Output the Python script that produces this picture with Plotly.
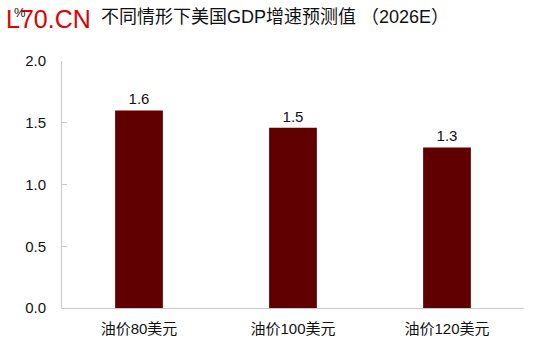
import plotly.graph_objects as go

categories = ["油价80美元", "油价100美元", "油价120美元"]
values = [1.6, 1.46, 1.3]
y_ticks = [0.0, 0.5, 1.0, 1.5, 2.0]
y_tick_labels = ["0.0", "0.5", "1.0", "1.5", "2.0"]
title_text = "不同情形下美国GDP增速预测值 （2026E）"
unit_text = "%"
watermark_text = "L70.CN"

font_family = "Liberation Sans, Arial, Noto Sans CJK SC, sans-serif"

fig = go.Figure(go.Bar(
    x=categories,
    y=values,
    marker=dict(color="#600000", line=dict(width=0)),
    width=0.31,
    texttemplate="%{y:.1f}",
    textposition="outside",
    textfont=dict(size=15, color="#111111", family=font_family),
    cliponaxis=False,
))

fig.update_layout(
    width=550, height=358,
    margin=dict(l=62, r=26, t=61, b=50),
    plot_bgcolor="white", paper_bgcolor="white",
    showlegend=False,
    font=dict(family=font_family, size=13, color="#111111"),
)
fig.update_yaxes(
    range=[0, 2], tickvals=y_ticks, ticktext=y_tick_labels,
    showgrid=False, zeroline=False, automargin=False,
    showline=True, linecolor="#c8c8c8", linewidth=1,
    ticks="inside", ticklen=5, tickcolor="#c8c8c8",
    ticklabelstandoff=12,
    tickfont=dict(size=15, color="#111111"),
)
fig.update_xaxes(
    showgrid=False, zeroline=False, automargin=False,
    showline=True, linecolor="#c8c8c8", linewidth=1,
    ticks="", ticklabelstandoff=7,
    tickfont=dict(size=15, color="#111111", family=font_family),
)

fig.add_annotation(
    text=watermark_text, xref="paper", yref="paper",
    x=-62/462, y=1 + (61 - 19) / 247, xanchor="left", yanchor="middle",
    xshift=4, showarrow=False,
    font=dict(size=25, color="#e00000", family="Liberation Sans, Arial, sans-serif"),
)
fig.add_annotation(
    text=unit_text, xref="paper", yref="paper",
    x=-62/462, y=1 + (61 - 13) / 247, xanchor="left", yanchor="middle",
    xshift=12, showarrow=False,
    font=dict(size=13, color="#111111", family="Liberation Sans, Arial, sans-serif"),
)
fig.add_annotation(
    text=title_text, xref="paper", yref="paper",
    x=-62/462, y=1 + (61 - 17) / 247, xanchor="left", yanchor="middle",
    xshift=99, showarrow=False,
    font=dict(size=18, color="#111111", family=font_family),
)

fig.write_html("out.html", config={"displayModeBar": False},
               post_script="document.body.style.margin='0';")
